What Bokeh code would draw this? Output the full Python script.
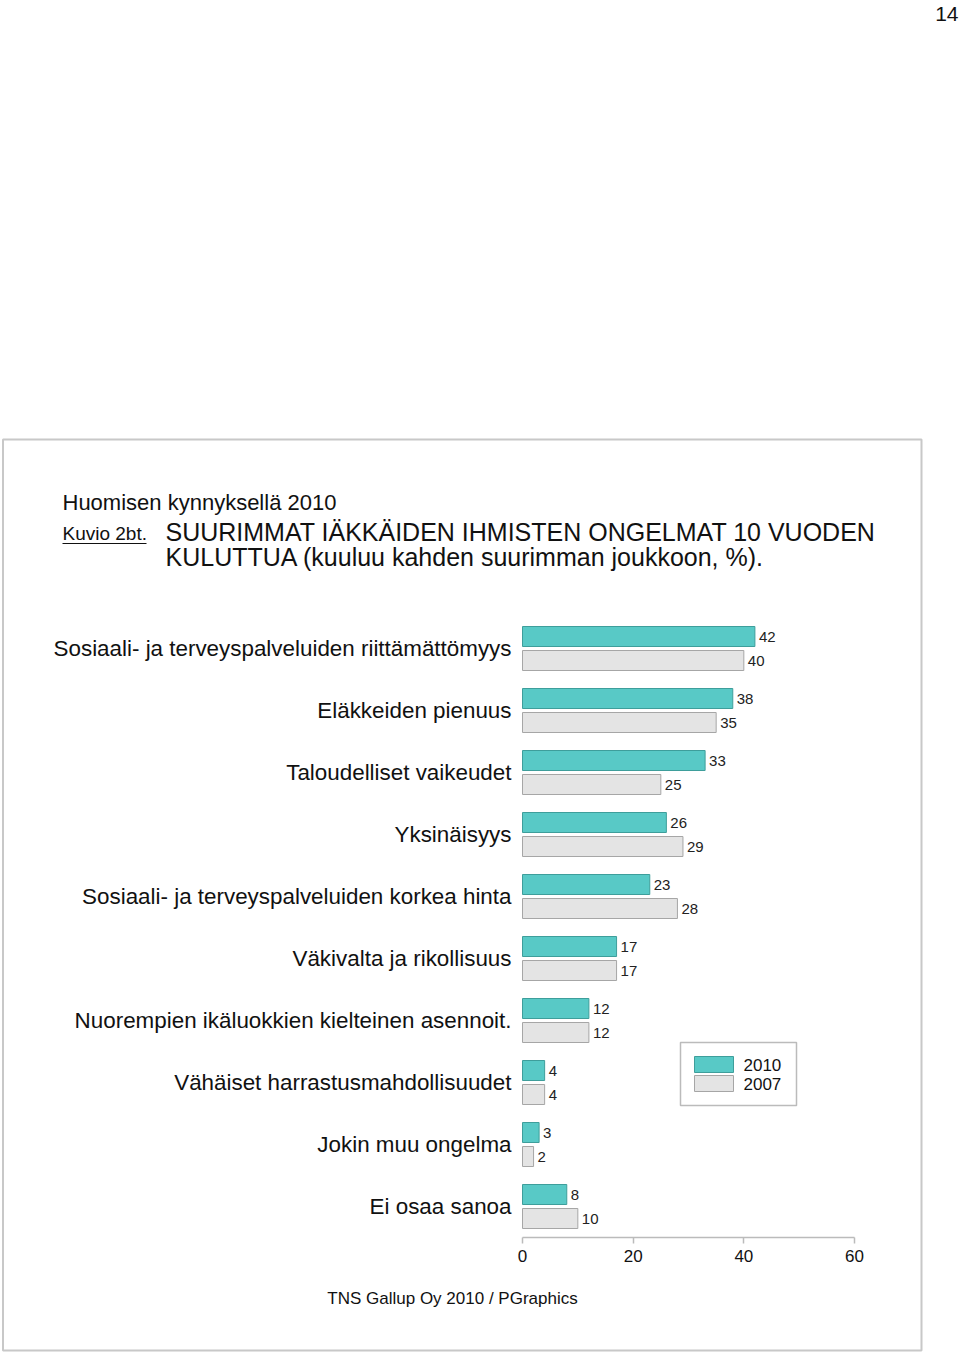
from bokeh.plotting import figure
from bokeh.models import Range1d, LinearAxis, FixedTicker, ColumnDataSource
from bokeh.core.properties import value
from bokeh.embed import file_html
from bokeh.resources import INLINE

# ---------------- data ----------------
categories = [
    "Sosiaali- ja terveyspalveluiden riittämättömyys",
    "Eläkkeiden pienuus",
    "Taloudelliset vaikeudet",
    "Yksinäisyys",
    "Sosiaali- ja terveyspalveluiden korkea hinta",
    "Väkivalta ja rikollisuus",
    "Nuorempien ikäluokkien kielteinen asennoit.",
    "Vähäiset harrastusmahdollisuudet",
    "Jokin muu ongelma",
    "Ei osaa sanoa",
]
values_2010 = [42, 38, 33, 26, 23, 17, 12, 4, 3, 8]
values_2007 = [40, 35, 25, 29, 28, 17, 12, 4, 2, 10]
series_names = ["2010", "2007"]
x_ticks = [0, 20, 40, 60]

header = "Huomisen kynnyksellä 2010"
fig_id = "Kuvio 2bt."
title_lines = ["SUURIMMAT IÄKKÄIDEN IHMISTEN ONGELMAT 10 VUODEN",
               "KULUTTUA (kuuluu kahden suurimman joukkoon, %)."]
footer = "TNS Gallup Oy 2010 / PGraphics"
page_no = "14"

# ---------------- layout ----------------
W, H = 960, 1352
FONT = value("Liberation Sans")
TEAL, TEAL_LINE = "#58C9C6", "#3E9E9B"
GREY, GREY_LINE = "#E4E4E4", "#A6A6A6"

x0_px, x60_px = 522.0, 854.0
S = (x60_px - x0_px) / 60.0          # px per unit


def X(px):
    return (px - x0_px) / S


p = figure(width=W, height=H, output_backend="svg", toolbar_location=None,
           x_axis_type=None, y_axis_type=None,
           x_range=Range1d(X(0), X(W)), y_range=Range1d(H, 0),
           min_border=0, outline_line_color=None)
p.grid.visible = False
p.background_fill_color = "white"
p.border_fill_color = "white"

# page frame
p.quad(left=[X(2.5)], right=[X(921)], top=[439], bottom=[1350],
       fill_color=None, line_color="#C8C8C8", line_width=2)

# bars
n = len(categories)
y_first, step, off = 648.0, 62.0, 12.0
gc = [y_first + step * i for i in range(n)]
y10 = [g - off for g in gc]
y07 = [g + off for g in gc]

src = ColumnDataSource(dict(cat=categories, gc=gc, y10=y10, y07=y07,
                            v10=values_2010, v07=values_2007,
                            t10=[str(v) for v in values_2010],
                            t07=[str(v) for v in values_2007]))

p.hbar(y="y10", left=0, right="v10", height=20, source=src,
       fill_color=TEAL, line_color=TEAL_LINE, line_width=1)
p.hbar(y="y07", left=0, right="v07", height=20, source=src,
       fill_color=GREY, line_color=GREY_LINE, line_width=1)

p.text(x="v10", y="y10", text="t10", source=src, x_offset=4,
       text_baseline="middle", text_font=FONT, text_font_size="15px",
       text_color="#222222")
p.text(x="v07", y="y07", text="t07", source=src, x_offset=4,
       text_baseline="middle", text_font=FONT, text_font_size="15px",
       text_color="#222222")

p.text(x=0, y="gc", text="cat", source=src, x_offset=-11,
       text_align="right", text_baseline="middle", text_font=FONT,
       text_font_size="22.4px", text_color="#111111")

# axis
ax = LinearAxis(fixed_location=1237, bounds=(0, 60),
                ticker=FixedTicker(ticks=x_ticks))
ax.axis_line_color = "#BBBBBB"
ax.axis_line_width = 1.5
ax.major_tick_line_color = "#BBBBBB"
ax.major_tick_line_width = 1.5
ax.major_tick_in = 0
ax.major_tick_out = 6
ax.minor_tick_line_color = None
ax.major_label_text_font = "Liberation Sans"
ax.major_label_text_font_size = "17px"
ax.major_label_text_color = "#111111"
ax.major_label_standoff = 6
p.add_layout(ax, "below")

# legend (drawn)
p.quad(left=[X(680)], right=[X(796)], top=[1042], bottom=[1105],
       fill_color="white", line_color="#BBBBBB", line_width=1.5)
p.quad(left=[X(694), X(694)], right=[X(733), X(733)], top=[1056, 1075],
       bottom=[1072, 1091], fill_color=[TEAL, GREY],
       line_color=[TEAL_LINE, GREY_LINE], line_width=1)
p.text(x=[X(743), X(743)], y=[1064, 1083], text=series_names,
       text_baseline="middle", text_font=FONT, text_font_size="17px",
       text_color="#111111")

# header texts
p.text(x=[X(62)], y=[502], text=[header], text_baseline="middle",
       text_font=FONT, text_font_size="22px", text_color="#111111")
p.text(x=[X(62)], y=[533], text=[fig_id], text_baseline="middle",
       text_font=FONT, text_font_size="19px", text_color="#111111")
p.segment(x0=[X(62)], x1=[X(146)], y0=[543], y1=[543],
          line_color="#111111", line_width=1)
p.text(x=[X(165), X(165)], y=[531, 556], text=title_lines,
       text_baseline="middle", text_font=FONT, text_font_size="25px",
       text_color="#111111")

# footer & page number
p.text(x=[X(452)], y=[1298], text=[footer], text_align="center",
       text_baseline="middle", text_font=FONT, text_font_size="17px",
       text_color="#111111")
p.text(x=[X(958)], y=[13], text=[page_no], text_align="right",
       text_baseline="middle", text_font=FONT, text_font_size="21px",
       text_color="#111111")

open("out.html", "w").write(file_html(p, INLINE))
